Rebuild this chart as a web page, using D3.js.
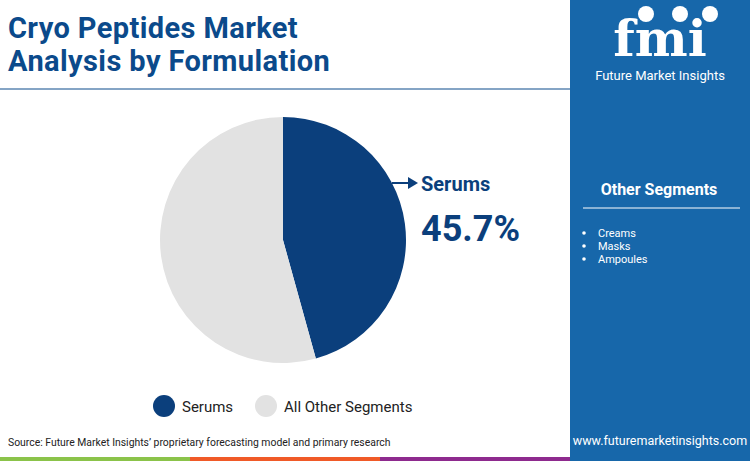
<!DOCTYPE html>
<html><head><meta charset="utf-8">
<script src="https://cdn.jsdelivr.net/npm/d3@7"></script>
<style>body{margin:0}svg{font-family:Roboto,sans-serif;display:block}</style>
</head><body><div id="chart"></div>
<script>
const categories = ["Serums", "All Other Segments"];
const values = [45.7, 54.3];
const colors = ["#0b3f7c", "#e2e2e2"];
const otherSegments = ["Creams", "Masks", "Ampoules"];

const W = 750, H = 461;
const svg = d3.select("#chart").append("svg").attr("width", W).attr("height", H);
svg.append("rect").attr("width", W).attr("height", H).attr("fill", "#fff");

// title
svg.append("text").attr("x", 8).attr("y", 38).attr("font-size", 29).attr("font-weight", 700)
  .attr("letter-spacing", 0.4).attr("fill", "#0b4a8b").text("Cryo Peptides Market");
svg.append("text").attr("x", 8).attr("y", 71).attr("font-size", 29).attr("font-weight", 700)
  .attr("letter-spacing", 0.4).attr("fill", "#0b4a8b").text("Analysis by Formulation");
svg.append("line").attr("x1", 0).attr("x2", 570).attr("y1", 89).attr("y2", 89)
  .attr("stroke", "#0b4a8b").attr("stroke-width", 1);

// right panel
svg.append("rect").attr("x", 570).attr("y", 0).attr("width", 180).attr("height", H).attr("fill", "#1767aa");
const logo = svg.append("g");
logo.append("text").attr("x", 660).attr("y", 56).attr("text-anchor", "middle").attr("font-size", 50)
  .attr("font-weight", 700).attr("fill", "#fff").attr("font-family", "DejaVu Serif, serif").text("fmi");
[646, 680, 710].forEach(cx => logo.append("circle").attr("cx", cx).attr("cy", 14).attr("r", 8).attr("fill", "#fff"));
logo.append("text").attr("x", 660).attr("y", 80).attr("text-anchor", "middle").attr("font-size", 13)
  .attr("fill", "#fff").text("Future Market Insights");
svg.append("text").attr("x", 659).attr("y", 195).attr("text-anchor", "middle").attr("font-size", 16)
  .attr("font-weight", 700).attr("fill", "#fff").text("Other Segments");
svg.append("line").attr("x1", 583).attr("x2", 740).attr("y1", 208).attr("y2", 208).attr("stroke", "#fff");
otherSegments.forEach((s, i) => {
  svg.append("circle").attr("cx", 584).attr("cy", 233 + i * 13).attr("r", 1.8).attr("fill", "#fff");
  svg.append("text").attr("x", 598).attr("y", 237 + i * 13).attr("font-size", 11).attr("fill", "#fff").text(s);
});
svg.append("text").attr("x", 660).attr("y", 445).attr("text-anchor", "middle").attr("font-size", 12.5)
  .attr("fill", "#fff").text("www.futuremarketinsights.com");

// pie
const cx = 283, cy = 240, r = 123;
const pie = d3.pie().sort(null).value(d => d)(values);
const arc = d3.arc().innerRadius(0).outerRadius(r);
svg.append("g").attr("transform", `translate(${cx},${cy})`).selectAll("path").data(pie).enter()
  .append("path").attr("d", arc).attr("fill", (d, i) => colors[i]);

// callout
svg.append("line").attr("x1", 392).attr("x2", 410).attr("y1", 183).attr("y2", 183)
  .attr("stroke", "#0b3f7c").attr("stroke-width", 2);
svg.append("path").attr("d", "M408,177 L418,183 L408,189 Z").attr("fill", "#0b3f7c");
svg.append("text").attr("x", 421).attr("y", 191).attr("font-size", 20).attr("font-weight", 700)
  .attr("fill", "#0b3f7c").text(categories[0]);
svg.append("text").attr("x", 421).attr("y", 241).attr("font-size", 36).attr("font-weight", 700)
  .attr("fill", "#0b3f7c").text(values[0] + "%");

// legend
const lg = [{x: 164, i: 0}, {x: 266, i: 1}];
lg.forEach(l => {
  svg.append("circle").attr("cx", l.x).attr("cy", 406).attr("r", 11).attr("fill", colors[l.i]);
  svg.append("text").attr("x", l.x + 18).attr("y", 412).attr("font-size", 15).attr("fill", "#222").text(categories[l.i]);
});

// source + bottom bar
svg.append("text").attr("x", 8).attr("y", 446).attr("font-size", 10.4).attr("fill", "#222")
  .text("Source: Future Market Insights’ proprietary forecasting model and primary research");
[["#8bc34a", 0], ["#f05a28", 190], ["#8e2a8e", 380]].forEach(([c, x]) =>
  svg.append("rect").attr("x", x).attr("y", 457).attr("width", 190).attr("height", 4).attr("fill", c));
</script></body></html>
